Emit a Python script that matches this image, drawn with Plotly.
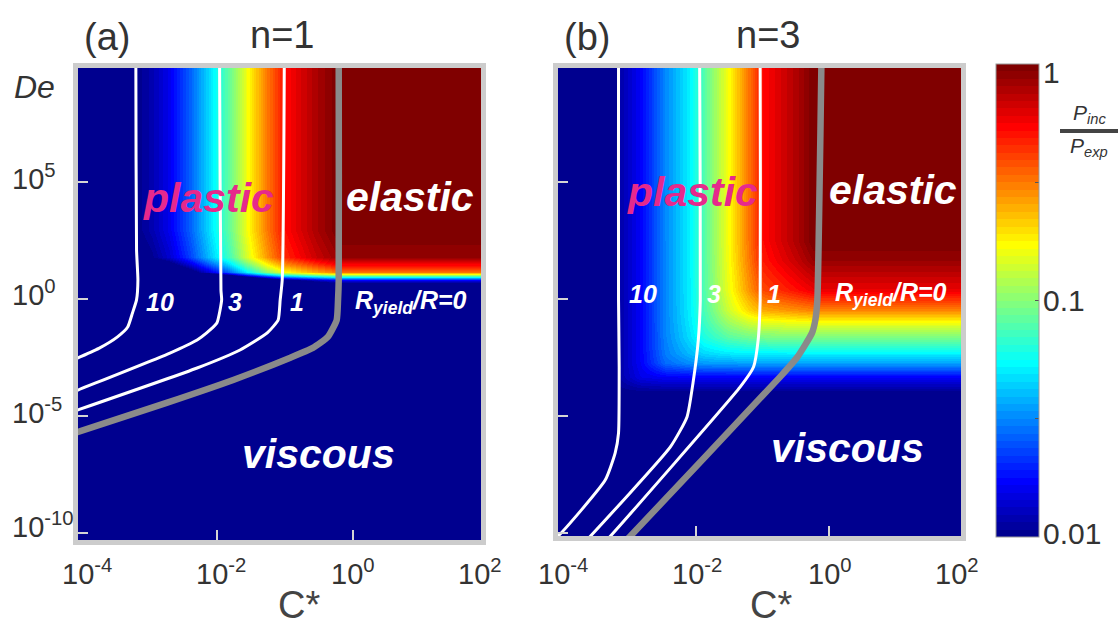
import numpy as np
import plotly.graph_objects as go

W, H = 1118, 629
FONT = "Liberation Sans, Arial, sans-serif"

# ---------------- data (all in log10) ----------------
# x = log10(C*), y = log10(De), colour = log10(P_inc/P_exp)
# Panel (a) n=1: ratio profile across C* (large De) and attenuation across De
a_logC = [-4.6, -3.2, -2.95, -2.7, -2.4, -2.06, -1.8, -1.56, -1.26, -1.0, -0.55, -0.22, 2.5]
a_ratio_C = [-2.0, -2.0, -1.92, -1.8, -1.58, -1.28, -1.06, -0.78, -0.5, -0.28, -0.1, 0.0, 0.0]
a_logDe = [-11.0, 0.68, 0.81, 0.94, 1.07, 1.15, 1.45, 1.79, 2.95, 10.5]
a_ratio_De = [-2.0, -2.0, -1.78, -1.28, -0.78, -0.5, -0.28, -0.06, 0.0, 0.0]

# Panel (b) n=3
b_logC = [-4.6, -3.18, -3.15, -2.84, -2.47, -2.09, -1.89, -1.53, -1.23, -0.99, -0.48, -0.24, 2.5]
b_ratio_C = [-2.0, -2.0, -1.93, -1.78, -1.5, -1.28, -1.1, -0.78, -0.5, -0.28, -0.1, 0.0, 0.0]
b_logDe = [-11.0, -4.02, -3.33, -2.74, -2.31, -1.62, -0.98, -0.47, 0.38, 1.67, 2.52, 10.5]
b_ratio_De = [-2.0, -2.0, -1.78, -1.45, -1.28, -1.02, -0.78, -0.52, -0.23, -0.06, 0.0, 0.0]

# R_yield/R contour lines (log10 C*, log10 De)
a_c10_x = [-3.19, -3.19, -3.18, -3.16, -3.18, -3.24, -3.31, -3.46, -3.72, -4.04, -4.2]
a_c10_y = [10.5, 9.87, 2.09, 0.81, -0.04, -0.60, -1.20, -1.62, -2.09, -2.52, -2.73]
a_c3_x = [-1.96, -1.96, -1.94, -1.93, -2.0, -2.15, -2.29, -2.69, -4.04, -4.2]
a_c3_y = [10.5, 9.87, 0.38, -0.04, -1.03, -1.45, -1.75, -2.31, -3.89, -4.08]
a_c1_x = [-1.01, -1.01, -1.04, -1.07, -1.10, -1.26, -1.66, -2.29, -4.04, -4.2]
a_c1_y = [10.5, 9.87, 0.81, -0.04, -0.90, -1.45, -2.18, -2.95, -4.74, -4.9]
a_c0_x = [-0.21, -0.21, -0.21, -0.22, -0.24, -0.37, -0.59, -0.93, -1.76, -2.74, -4.04, -4.2]
a_c0_y = [10.5, 9.87, 0.81, -0.04, -0.90, -1.62, -2.09, -2.52, -3.46, -4.44, -5.68, -5.84]

b_c10_x = [-3.17, -3.17, -3.17, -3.16, -3.17, -3.22, -3.37, -4.08, -4.2]
b_c10_y = [10.5, 9.87, -0.04, -2.91, -5.73, -6.58, -7.74, -10.13, -10.3]
b_c3_x = [-1.95, -1.95, -1.94, -1.97, -2.05, -2.14, -2.39, -3.59, -3.7]
b_c3_y = [10.5, 9.87, -0.04, -1.75, -3.59, -5.04, -6.32, -10.13, -10.45]
b_c1_x = [-1.04, -1.04, -1.04, -1.07, -1.14, -1.34, -3.29, -3.4]
b_c1_y = [10.5, 9.87, -0.04, -1.75, -2.91, -3.76, -10.13, -10.45]
b_c0_x = [-0.12, -0.12, -0.15, -0.18, -0.21, -0.26, -0.48, -0.74, -2.99, -3.1]
b_c0_y = [10.5, 9.87, 4.23, -0.04, -0.90, -1.45, -2.48, -3.33, -10.13, -10.45]

x_tick_text = ["10<sup>-4</sup>", "10<sup>-2</sup>", "10<sup>0</sup>", "10<sup>2</sup>"]
y_tick_text = ["10<sup>5</sup>", "10<sup>0</sup>", "10<sup>-5</sup>", "10<sup>-10</sup>"]
cbar_text = ["1", "0.1", "0.01"]

# ---------------- tables for the heatmaps ----------------
# (a): the two read profiles multiply (add in log)
za = np.add.outer(np.array(a_ratio_De), np.array(a_ratio_C))
# (b): the smaller of the two read profiles, with a rounded corner
uC = np.clip((np.array(b_ratio_C) + 2) / 2, 1e-3, 1)
uD = np.clip((np.array(b_ratio_De) + 2) / 2, 1e-3, 1)
PW = 4.0
ub = (np.add.outer(uD ** -PW, uC ** -PW) - 1) ** (-1 / PW)
zb = 2 * ub - 2


# MATLAB jet(64) colour map, stepped
def jet64():
    cols = []
    for j in range(1, 65):
        if j <= 8:
            b = (j + 8) / 16
        elif j <= 23:
            b = 1.0
        elif j <= 39:
            b = (40 - j) / 16
        else:
            b = 0.0
        if j <= 8:
            g = 0.0
        elif j <= 24:
            g = (j - 8) / 16
        elif j <= 39:
            g = 1.0
        elif j <= 55:
            g = (56 - j) / 16
        else:
            g = 0.0
        if j <= 24:
            r = 0.0
        elif j <= 40:
            r = (j - 24) / 16
        elif j <= 55:
            r = 1.0
        else:
            r = (72 - j) / 16
        cols.append("rgb(%d,%d,%d)" % (round(r * 255), round(g * 255), round(b * 255)))
    scale = []
    for i, c in enumerate(cols):
        scale.append([i / 64, c])
        scale.append([(i + 1) / 64, c])
    return scale


def px(v):
    return v / W


def py(v):
    return 1 - v / H


fig = go.Figure()
fig.add_trace(go.Heatmap(x=a_logC, y=a_logDe, z=za, zsmooth="best",
                         coloraxis="coloraxis", xaxis="x", yaxis="y", hoverinfo="skip"))
fig.add_trace(go.Heatmap(x=b_logC, y=b_logDe, z=zb, zsmooth="best",
                         coloraxis="coloraxis", xaxis="x2", yaxis="y2", hoverinfo="skip"))

WHITE = dict(color="white", width=3)
GREY = dict(color="#8a8a8a", width=6.5)
for xs, ys, ln in [(a_c10_x, a_c10_y, WHITE), (a_c3_x, a_c3_y, WHITE),
                   (a_c1_x, a_c1_y, WHITE), (a_c0_x, a_c0_y, GREY)]:
    fig.add_trace(go.Scatter(x=xs, y=ys, mode="lines", line=dict(**ln, shape="spline", smoothing=0.5),
                             xaxis="x", yaxis="y", showlegend=False, hoverinfo="skip"))
for xs, ys, ln in [(b_c10_x, b_c10_y, WHITE), (b_c3_x, b_c3_y, WHITE),
                   (b_c1_x, b_c1_y, WHITE), (b_c0_x, b_c0_y, GREY)]:
    fig.add_trace(go.Scatter(x=xs, y=ys, mode="lines", line=dict(**ln, shape="spline", smoothing=0.5),
                             xaxis="x2", yaxis="y2", showlegend=False, hoverinfo="skip"))

axis_common = dict(showgrid=False, zeroline=False, showticklabels=False,
                   ticks="inside", ticklen=10, tickwidth=2, tickcolor="#d4d4d4",
                   showline=True, linewidth=5, linecolor="#cccccc", mirror=True)

fig.update_layout(
    width=W, height=H, autosize=False,
    margin=dict(l=0, r=0, t=0, b=0),
    paper_bgcolor="white", plot_bgcolor="white",
    showlegend=False,
    xaxis=dict(domain=[px(78), px(481)], range=[-4.04, 1.88], tickvals=[-2, 0], anchor="y", **axis_common),
    yaxis=dict(domain=[py(540), py(68)], range=[-10.3, 9.87], tickvals=[-10, -5, 0, 5], anchor="x", **axis_common),
    xaxis2=dict(domain=[px(558), px(961)], range=[-4.08, 1.98], tickvals=[-2, 0], anchor="y2", **axis_common),
    yaxis2=dict(domain=[py(536), py(68)], range=[-10.13, 9.87], tickvals=[-10, -5, 0, 5], anchor="x2", **axis_common),
    coloraxis=dict(
        colorscale=jet64(), cmin=-2, cmax=0,
        colorbar=dict(x=px(996), xanchor="left", y=py(300.5), yanchor="middle",
                      len=473, lenmode="pixels", thickness=43, thicknessmode="pixels",
                      xpad=0, ypad=0, outlinewidth=1, outlinecolor="#9a9a9a",
                      tickvals=[-2, -1.5, -1, -0.5, 0], ticks="inside", ticklen=4,
                      tickcolor="#555555", showticklabels=False),
    ),
)

ann = []
TXT = "#333333"


def add_paper(text, x, y, size, color=TXT, xanchor="center", yanchor="middle"):
    ann.append(dict(text=text, x=px(x), y=py(y), xref="paper", yref="paper", showarrow=False,
                    xanchor=xanchor, yanchor=yanchor, font=dict(family=FONT, size=size, color=color)))


def add_data(text, x, y, xr, yr, size, color="white"):
    ann.append(dict(text=text, x=x, y=y, xref=xr, yref=yr, showarrow=False,
                    xanchor="center", yanchor="middle", font=dict(family=FONT, size=size, color=color)))


# titles
add_paper("(a)", 107, 37, 38)
add_paper("n=1", 282, 35, 38)
add_paper("(b)", 587, 37, 38)
add_paper("n=3", 768, 35, 38)

# axis labels
add_paper("<i>De</i>", 34, 87, 32)
add_paper("C*", 299, 605, 38, color="#444444")
add_paper("C*", 771, 605, 38, color="#444444")

# tick labels
for t, xc in zip(x_tick_text, [87, 221, 353, 480]):
    add_paper(t, xc, 572, 29)
for t, xc in zip(x_tick_text, [563, 697, 830, 957]):
    add_paper(t, xc, 572, 29)
for t, yc in zip(y_tick_text, [177, 293, 411, 525]):
    add_paper(t, 10, yc, 29, xanchor="left")

# colourbar labels
for t, yc in zip(cbar_text, [72, 300, 533]):
    add_paper(t, 1041, yc, 30, xanchor="left")
add_paper("<i>P<sub>inc</sub></i>", 1089, 114, 21)
add_paper("<i>P<sub>exp</sub></i>", 1089, 147, 21)

# region labels
PINK = "#e6298c"
add_data("<b><i>plastic</i></b>", -2.13, 4.32, "x", "y", 41, PINK)
add_data("<b><i>elastic</i></b>", 0.84, 4.36, "x", "y", 41)
add_data("<b><i>viscous</i></b>", -0.51, -6.62, "x", "y", 41)
add_data("<b><i>plastic</i></b>", -2.06, 4.57, "x2", "y2", 41, PINK)
add_data("<b><i>elastic</i></b>", 0.96, 4.66, "x2", "y2", 41)
add_data("<b><i>viscous</i></b>", 0.27, -6.37, "x2", "y2", 41)

# contour labels
for t, xv in zip(["10", "3", "1", "R<sub>yield</sub>/R=0"], [-2.84, -1.74, -0.82, 0.85]):
    add_data("<b><i>%s</i></b>" % t, xv, -0.13, "x", "y", 25)
for t, xv in zip(["10", "3", "1", "R<sub>yield</sub>/R=0"], [-2.80, -1.73, -0.83, 0.92]):
    add_data("<b><i>%s</i></b>" % t, xv, 0.21, "x2", "y2", 25)

fig.update_layout(annotations=ann,
                  shapes=[dict(type="line", xref="paper", yref="paper",
                               x0=px(1060), x1=px(1118), y0=py(131), y1=py(131),
                               line=dict(color="#444444", width=4))])

fig.write_html("out.html")
